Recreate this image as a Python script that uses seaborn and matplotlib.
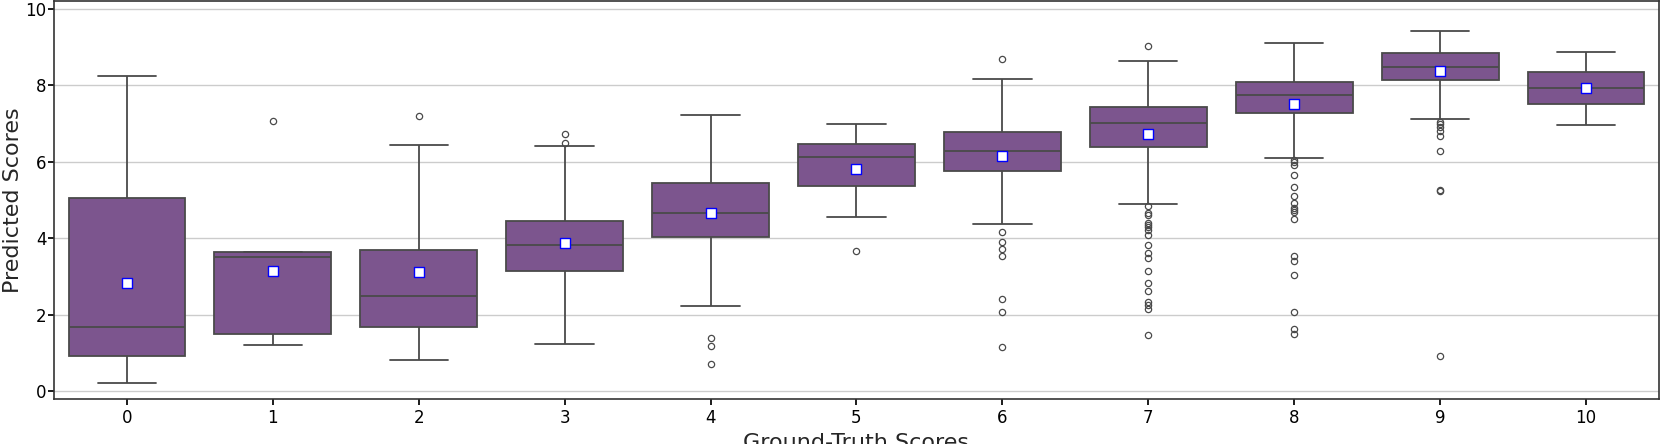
import numpy as np
import pandas as pd
import matplotlib
matplotlib.use("Agg")
import matplotlib.pyplot as plt
import seaborn as sns

# box statistics, one entry per ground-truth score
categories = list(range(11))
q1 = [0.91, 1.51, 1.67, 3.15, 4.03, 5.37, 5.76, 6.39, 7.28, 8.13, 7.51]
medians = [1.68, 3.51, 2.49, 3.82, 4.67, 6.13, 6.28, 7.02, 7.74, 8.48, 7.93]
q3 = [5.06, 3.63, 3.70, 4.46, 5.44, 6.46, 6.77, 7.42, 8.09, 8.83, 8.35]
whisker_low = [0.22, 1.22, 0.81, 1.24, 2.23, 4.55, 4.36, 4.90, 6.09, 7.11, 6.95]
whisker_high = [8.24, 3.65, 6.44, 6.40, 7.22, 6.99, 8.16, 8.63, 9.10, 9.42, 8.87]
means = [2.83, 3.15, 3.13, 3.88, 4.67, 5.82, 6.16, 6.73, 7.51, 8.36, 7.93]
outliers = [
    [],
    [7.07],
    [7.19],
    [6.48, 6.72],
    [1.39, 1.19, 0.71],
    [3.67],
    [8.67, 4.16, 3.90, 3.71, 3.53, 2.42, 2.06, 1.15],
    [9.02, 4.83, 4.66, 4.60, 4.40, 4.34, 4.29, 4.21, 4.08, 3.82, 3.62,
     3.49, 3.14, 2.84, 2.62, 2.33, 2.25, 2.16, 1.47],
    [6.05, 6.00, 5.90, 5.66, 5.35, 5.11, 4.92, 4.78, 4.73, 4.69, 4.49,
     3.54, 3.40, 3.04, 2.07, 1.64, 1.51],
    [7.04, 6.98, 6.91, 6.80, 6.67, 6.29, 5.27, 5.23, 0.92],
    [],
]

# long-form table whose quartiles / whiskers / fliers reproduce the stats above
K = 200
rows = []
for i, c in enumerate(categories):
    vals = ([whisker_low[i], whisker_high[i]] + [q1[i]] * K + [medians[i]] * K
            + [q3[i]] * K + outliers[i])
    rows += [(c, v) for v in vals]
df = pd.DataFrame(rows, columns=["Ground-Truth Scores", "Predicted Scores"])

sns.set_theme(style="ticks")
plt.rcParams["font.family"] = ["DejaVu Sans"]

fig, ax = plt.subplots(figsize=(16.61, 4.44), dpi=100)
fig.subplots_adjust(left=0.0325, right=0.9988, top=0.998, bottom=0.1014)

sns.boxplot(data=df, x="Ground-Truth Scores", y="Predicted Scores",
            color="#7c558e", saturation=1, width=0.8, whis=1.5,
            linecolor="#4a4a4a", linewidth=1.3, fliersize=4.5,
            flierprops=dict(marker="o", markerfacecolor="none",
                            markeredgecolor="#4a4a4a", markeredgewidth=0.9),
            ax=ax)
sns.scatterplot(x=categories, y=means, marker="s", color="white",
                edgecolor="blue", linewidth=1, s=55, zorder=10, ax=ax)

ax.set_xlim(-0.5, 10.5)
ax.set_ylim(-0.2, 10.2)
ax.set_yticks([0, 2, 4, 6, 8, 10])
ax.set_axisbelow(True)
ax.yaxis.grid(True, color="#cccccc", linewidth=1)
for s in ax.spines.values():
    s.set_color("#333333")
    s.set_linewidth(1.2)
ax.tick_params(labelsize=12, colors="black", length=4)
ax.tick_params(axis="y", pad=1.5)
ax.set_xlabel("Ground-Truth Scores", fontsize=16)
ax.set_ylabel("Predicted Scores", fontsize=16, labelpad=1.5)

plt.savefig("out.png", dpi=100)
